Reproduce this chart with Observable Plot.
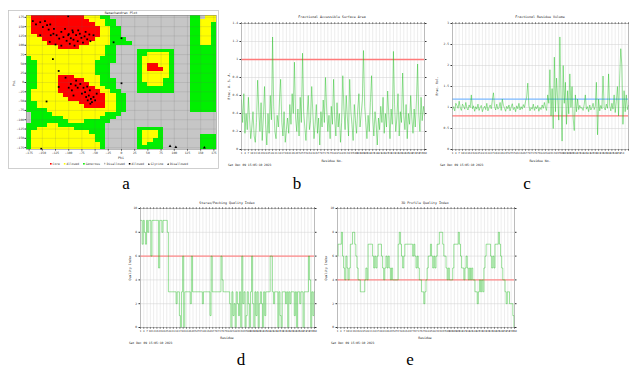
<!DOCTYPE html>
<html><head><meta charset="utf-8">
<script src="https://cdn.jsdelivr.net/npm/d3@7"></script>
<script src="https://cdn.jsdelivr.net/npm/@observablehq/plot@0.6"></script>
<style>
body{margin:0;background:#fff;}
#root{position:relative;width:629px;height:367px;overflow:hidden;background:#fff;}
</style></head><body><div id="root"></div>
<script>
// ---------- DATA ----------
const ramaTicks = [-175,-150,-125,-100,-75,-50,-25,0,25,50,75,100,125,150,175];
// region map: rows psi 180->-180 (10 deg), cols phi -180->180 (10 deg); R core, Y allowed, G generous, . disallowed
const ramaRegions = [
"YRRRRRRRRRRYYYGG...............GG.YY",
"YRRRRRRRRRRRYYYGG..............GGYYY",
"YRRRRRRRRRRRRYYGG..............GGYYG",
"YRRRRRRRRRRRRRYYGG.............GGYYG",
"YRRRRRRRRRRRRRYYGG.............GGYYG",
"YYRRRRRRRRRRRRYYGG.............GGYYG",
"YYYRRRRRRRRRRYYYGGG............GGYYG",
"YYYYRRRRRRRRYYYYGGGG...........GGYYG",
"YYYYYYRRRRYYYYYGG..............GGGGG",
"YYYYYYYYYYYYYYYGG....GGGGGGG...GGGGG",
"YYYYYYYYYYYYYYYGG....GGYYYYG...GGGGG",
"GYYYYYYYYYYYYYGGG....GYYYYYG...GGGGG",
"GGYYYYYYYYYYYGGGG....GYYYYYG...GGGGG",
"GGYYYYYYYYYYYGGG.....GYRRYYG...GGGGG",
"GGYYYYYYYYYYYGGG.....GYRRRYG...GGGGG",
"GGYYYYYYYYYYYGGG.....GYYYYYG...GGGGG",
"GGYYYYRRRYYYYYGG.....GYYYYYG...GGGGG",
"GGYYYYRRRRRYYYGGG....GYYYYGG...GGGGG",
"GGYYYYRRRRRRYYGGG....GGYYYGG...GGGGG",
"GGYYYYRRRRRRRYYGG....GGGGGGG...GGGGG",
"GYYYYYRRRRRRRRYYGG...GGGGGGG...GGGGG",
"GYYYYYYRRRRRRRRYYGG............GGGGG",
"GYYYYYYYRRRRRRRYYGG............GGGGG",
"GGYYYYYYYYRRRRRYYGG............GGGGG",
"GGYYYYYYYYYRRRRYYGG............GGGGG",
"GGGGYYYYYYYYYYYYYGG............GGGGG",
".GGGGYYYYYYYYYYGGG..................",
".GGGGGGYYYYYYYGGG...................",
".GGGGGGGYYYGGGGG....................",
"GGGGYYGGGGGGGGG.....................",
"GGYYYYYYYGGGGGG......GGGGG..........",
"GYYYYYYYYYYYGGG......GYYYG..........",
"GYYYYYYYYYYYYGG......GYYYG.......GGG",
"GYYYYYYYYYYYYGG......GYYGG.......GGG",
"GYYYYYYYYYYYYYG......GYGGG.......GGG",
"GYYYYYYYYYYYYYG......GGGGG.......GGG"];
const ramaResidues = [
[-168,165],[-162,156],[-154,162],[-149,149],[-141,154],[-138,142],[-135,156],[-134,127],[-129,131],[-128,144],
[-123,127],[-118,118],[-114,136],[-110,122],[-107,144],[-104,112],[-101,127],[-98,104],[-96,119],[-93,140],
[-91,115],[-89,99],[-86,127],[-83,111],[-79,131],[-76,120],[-73,107],[-70,124],[-68,136],[-65,116],
[-61,129],[-59,111],[-53,127],[-101,178],[-114,99],[-154,127],[-136,109],[-125,102],[-145,165],[-92,135],
[-82,140],[-100,130],[-106,13],[-100,-14],[-94,-21],[-87,-8],[-83,-14],[-78,-4],[-75,-30],[-72,-14],
[-69,-26],[-67,-39],[-64,-48],[-62,-35],[-60,-21],[-58,-44],[-56,-53],[-53,-39],[-50,-48],[-119,-12],
[-91,-35],[-59,-57],[-47,-30],[-86,5],[-96,-4],[-65,-11],[-130,63],[-119,31],[-142,-51],[-15,108],
[0,119],[0,-2],[-152,-178]];
const ramaGlycines = [[92,-171],[103,-174],[157,-175]];

const residueCount = 160;
const asaValues = [
0.55,0.30,0.62,0.18,0.40,0.22,0.58,0.35,0.12,0.25,0.42,0.15,0.08,0.30,0.77,0.45,0.20,0.52,0.10,0.35,
0.70,0.28,0.05,0.40,0.18,0.60,0.33,1.25,0.48,0.20,0.12,0.38,0.25,0.55,0.78,0.30,0.15,0.42,0.08,0.22,
0.35,0.18,0.50,0.28,0.62,0.40,0.97,0.35,0.20,0.45,0.15,0.58,0.30,1.07,0.42,0.25,0.10,0.38,0.60,0.22,
0.32,0.70,0.40,0.12,0.28,0.50,0.18,0.35,0.05,0.42,0.25,0.55,0.30,0.80,0.45,0.20,0.38,0.12,0.48,0.28,
0.78,0.35,0.15,0.52,0.25,0.40,0.08,0.30,0.82,0.45,0.22,0.60,0.35,0.15,0.78,0.42,0.28,0.10,0.50,0.32,
0.18,0.45,0.62,0.25,0.40,0.55,1.10,0.48,0.30,0.12,0.38,0.20,0.52,0.82,0.35,0.15,0.42,0.28,0.05,0.35,
0.22,0.48,0.30,0.58,0.18,0.40,0.25,0.65,0.38,0.12,0.45,0.28,1.09,0.50,0.20,0.35,0.62,0.15,0.42,0.30,
0.85,0.38,0.22,0.50,0.12,0.40,0.28,0.60,0.35,0.18,0.45,0.25,0.55,0.95,0.40,0.20,0.58,0.32,0.48,0.38];
const volumeValues = [
0.95,1.02,0.92,1.10,1.05,0.98,1.15,1.00,0.93,1.08,1.03,0.96,1.12,0.99,0.94,1.06,1.00,1.30,0.97,1.04,
0.91,1.02,0.96,1.08,0.93,1.00,1.05,0.90,0.98,1.03,0.95,1.10,0.92,1.00,1.06,0.97,1.18,1.35,1.02,0.94,
1.08,0.96,1.00,1.12,0.93,1.20,1.05,0.98,0.91,1.03,0.97,1.06,0.92,1.01,1.09,0.95,1.00,0.90,1.04,0.97,
1.10,0.94,1.02,0.96,1.07,1.00,1.15,1.25,1.58,1.05,0.92,1.00,0.96,1.08,0.93,1.02,0.97,1.05,0.91,1.00,
0.95,1.06,0.98,1.12,1.00,0.93,1.30,1.10,1.90,0.80,1.45,0.50,2.20,0.90,1.70,1.20,0.70,2.68,1.30,0.20,
2.00,1.10,1.60,0.60,1.40,0.85,1.80,1.00,1.50,0.75,0.45,1.30,0.90,1.20,0.95,1.05,0.98,1.00,0.93,1.08,
1.30,0.96,1.02,0.90,1.06,0.94,1.00,1.10,0.95,1.03,1.60,0.35,1.20,0.92,1.05,0.97,1.75,1.00,0.94,1.08,
0.98,1.80,1.05,0.92,1.10,0.96,1.30,0.88,1.15,1.50,0.80,1.70,2.40,2.00,0.60,1.40,0.90,1.30,0.95,1.05];
const packingValues = [
9,9,7,9,8,7,9,8,9,9,6,9,9,9,9,9,9,5,9,9,8,9,9,9,9,8,3,3,3,3,
3,3,3,2,3,3,1,0,3,6,0,3,3,3,3,3,2,6,3,3,3,3,3,3,3,3,3,2,3,3,
3,3,3,3,1,6,3,3,3,3,3,3,3,3,6,4,3,3,3,3,3,3,2,0,3,1,2,0,3,2,
1,3,0,6,2,3,0,1,3,2,0,3,6,2,0,3,1,3,0,2,3,2,0,3,1,3,3,3,3,6,
6,3,2,3,3,3,0,3,1,0,3,3,3,2,3,0,3,2,3,3,3,1,3,0,3,3,2,3,3,0,
3,3,3,3,6,4,0,3,1,3];
const profileValues = [
6,7,7,7,8,6,5,4,6,5,4,5,7,7,8,8,7,6,5,4,4,3,3,3,3,4,5,4,7,7,
7,7,6,5,6,5,6,7,7,7,6,5,4,5,6,5,6,5,4,5,4,4,4,4,4,7,8,7,6,5,
6,7,7,7,7,7,7,7,6,7,6,5,6,5,4,4,3,3,2,3,4,5,6,6,7,6,5,6,5,6,
7,7,8,8,8,7,6,6,5,4,5,4,4,4,5,7,7,7,7,8,7,6,5,5,4,5,6,5,4,5,
4,5,4,4,3,3,2,3,4,3,4,3,5,6,7,7,7,7,6,5,6,5,7,7,7,8,7,6,5,4,
4,3,2,3,3,2,2,2,1,0];
const dateStamp = "Sat Dec 09 15:05:10 2023";

// ---------- HELPERS ----------
const root = document.getElementById("root");
function place(el, left, top){ el.style.position="absolute"; el.style.left=left+"px"; el.style.top=top+"px"; root.appendChild(el); }
const residueTicks = asaValues.map((v,i)=>i+1).filter(r=>(r-1)%3===0);
const mono = "DejaVu Sans Mono, monospace";
const fmt = d3.format("~g");

function residueChart(cfg){
  const data = cfg.values.map((v,i)=>({res:i+1, v}));
  const lastLabel = cfg.lastLabel || residueCount;
  return Plot.plot({
    width:cfg.w, height:cfg.h, marginLeft:cfg.mL, marginRight:cfg.mR, marginTop:cfg.mT, marginBottom:cfg.mB,
    style:{background:"transparent", fontSize:"3px", fontFamily:mono, color:"#333", overflow:"visible"},
    x:{domain:[1,residueCount], label:null},
    y:{domain:cfg.yDomain, label:null},
    marks:[
      Plot.gridX(residueTicks,{stroke:"#dadada", strokeOpacity:1, strokeWidth:0.5}),
      Plot.gridY(cfg.yTicks,{stroke:"#d0d0d0", strokeOpacity:1, strokeWidth:0.5}),
      ...cfg.refs.map(r=>Plot.ruleY([r.y],{stroke:r.color, strokeWidth:1.3})),
      Plot.line(data,{x:"res", y:"v", stroke:"#1fbf1f", strokeWidth:0.75, strokeOpacity:0.6, curve:cfg.curve||"linear"}),
      Plot.axisX({ticks:residueTicks, anchor:"bottom", tickSize:1.5, tickPadding:1, tickFormat:d=>d<=lastLabel?d:"", fontSize:"2.6px", label:null}),
      Plot.axisX({ticks:residueTicks, anchor:"top", tickSize:1.5, tickFormat:()=>"", label:null}),
      Plot.axisY({ticks:cfg.yTicks, anchor:"left", tickSize:1.5, tickPadding:2, tickFormat:fmt, label:null}),
      Plot.axisY({ticks:cfg.yTicks, anchor:"right", tickSize:1.5, tickFormat:()=>"", label:null}),
      Plot.frame({stroke:"#999", strokeWidth:0.6})
    ]
  });
}

// ---------- PANEL A ----------
const cells = [];
ramaRegions.forEach((row,r)=>row.padEnd(36,".").slice(0,36).split("").forEach((k,c)=>cells.push({phi:-180+10*c, psi:170-10*r, k})));
const rama = Plot.plot({
  width:210, height:148, marginLeft:18, marginRight:2, marginTop:5, marginBottom:9,
  style:{background:"transparent", fontSize:"3px", fontFamily:mono, color:"#333", overflow:"visible"},
  x:{domain:[-180,180], label:null}, y:{domain:[-180,180], label:null},
  color:{domain:["R","Y","G","."], range:["#ff0000","#ffff00","#00f000","#c6c6c6"]},
  marks:[
    Plot.rect(cells,{x1:"phi", x2:d=>d.phi+10, y1:"psi", y2:d=>d.psi+10, fill:"k", shapeRendering:"crispEdges"}),
    Plot.gridX(ramaTicks,{stroke:"#666", strokeOpacity:0.3, strokeWidth:0.5}),
    Plot.gridY(ramaTicks,{stroke:"#666", strokeOpacity:0.3, strokeWidth:0.5}),
    Plot.dot(ramaResidues,{x:d=>d[0], y:d=>d[1], symbol:"square", r:1.0, fill:"#000"}),
    Plot.dot(ramaGlycines,{x:d=>d[0], y:d=>d[1], symbol:"triangle", r:1.1, fill:"#000"}),
    Plot.axisX({ticks:ramaTicks, tickSize:1.5, tickPadding:1, label:null}),
    Plot.axisY({ticks:ramaTicks, tickSize:1.5, tickPadding:1, label:null}),
    Plot.frame({stroke:"#777", strokeWidth:0.5})
  ]
});
place(rama, 8, 10);

// ---------- PANELS B-E ----------
place(residueChart({values:asaValues, yDomain:[0,1.4], yTicks:[0,0.2,0.4,0.6,0.8,1,1.2,1.4],
  refs:[{y:1,color:"#ff7a7a"}], w:205, h:150, mL:16, mR:6, mT:15, mB:9}), 225, 8);
place(residueChart({values:volumeValues, yDomain:[0,3], yTicks:[0,0.5,1,1.5,2,2.5,3], lastLabel:155,
  refs:[{y:1.2,color:"#7ab8ff"},{y:0.8,color:"#ff7a7a"}], w:194, h:150, mL:17, mR:1, mT:15, mB:9}), 435, 8);
place(residueChart({values:packingValues, yDomain:[0,10], yTicks:[0,2,4,6,8,10], curve:"step",
  refs:[{y:6,color:"#ff8a8a"}], w:195, h:136, mL:15, mR:6, mT:8, mB:9}), 125, 200);
place(residueChart({values:profileValues, yDomain:[0,10], yTicks:[0,2,4,6,8,10], curve:"step",
  refs:[{y:4,color:"#ff8a8a"}], w:198, h:136, mL:15, mR:6, mT:8, mB:9}), 322, 200);

// ---------- OVERLAY TEXT ----------
const ov = d3.create("svg").attr("width",629).attr("height",367)
  .style("position","absolute").style("left","0px").style("top","0px").style("pointer-events","none");
root.appendChild(ov.node());
function txt(x,y,s,o={}){
  const t = ov.append("text").attr("x",x).attr("y",y).attr("text-anchor",o.anchor||"middle")
    .attr("dominant-baseline","central").style("font-size",(o.size||3.4)+"px")
    .style("font-family",o.family||mono).attr("fill",o.fill||"#222").text(s);
  if(o.rotate) t.attr("transform",`rotate(${o.rotate},${x},${y})`);
  return t;
}
ov.append("rect").attr("x",8.5).attr("y",10.5).attr("width",210).attr("height",158)
  .attr("fill","none").attr("stroke","#c4c4c4").attr("stroke-width",0.8);
txt(121,12.6,"Ramachandran Plot",{size:3.2});
txt(14,83,"Psi",{rotate:-90,size:3.2});
txt(121,157.5,"Phi",{size:3.2});
// legend
const legendItems = [["Core","#ff0000","sq"],["Allowed","#ffff00","sq"],["Generous","#00f000","sq"],["Disallowed","#ffffff","sq"],["Allowed","#000","sq"],["Glycine","#000","tri"],["Disallowed","#000","tri"]];
const lg = ov.append("g");
let lx = 0;
legendItems.forEach(([label,color,shape])=>{
  if(shape==="sq") lg.append("rect").attr("x",lx).attr("y",163).attr("width",1.6).attr("height",1.6).attr("fill",color).attr("stroke",color==="#ffffff"?"#999":"none").attr("stroke-width",0.3);
  else lg.append("path").attr("d",`M${lx+0.8},162.9L${lx+1.7},164.7L${lx-0.1},164.7Z`).attr("fill",color);
  const t = lg.append("text").attr("x",lx+2.6).attr("y",164).attr("dominant-baseline","central")
    .style("font-size","3px").style("font-family",mono).attr("fill","#333").text(label);
  lx += 2.6 + t.node().getComputedTextLength() + 4;
});
lg.attr("transform",`translate(${121-lx/2},0)`);

txt(332,17,"Fractional Accessible Surface Area",{size:3.3});
txt(229,86,"Frac. A. S. A.",{rotate:-90,size:3.2});
txt(332,160.5,"Residue No.",{size:3.2});
txt(228,164.5,dateStamp,{anchor:"start",size:3});

txt(540,17,"Fractional Residue Volume",{size:3.3});
txt(437,86,"Frac. Vol.",{rotate:-90,size:3.2});
txt(540,160.5,"Residue No.",{size:3.2});
txt(440,164.5,dateStamp,{anchor:"start",size:3});

txt(227,202.5,"Stereo/Packing Quality Index",{size:3.3});
txt(130,268,"Quality Index",{rotate:-90,size:3.2});
txt(227,338,"Residue",{size:3.2});
txt(129,343,dateStamp,{anchor:"start",size:3});

txt(425,202.5,"3D Profile Quality Index",{size:3.3});
txt(326,268,"Quality Index",{rotate:-90,size:3.2});
txt(425,338,"Residue",{size:3.2});
txt(331,343,dateStamp,{anchor:"start",size:3});

const serif = "Liberation Serif, Times New Roman, serif";
txt(126,183,"a",{size:17,family:serif,fill:"#000"});
txt(297,183,"b",{size:17,family:serif,fill:"#000"});
txt(527,183,"c",{size:17,family:serif,fill:"#000"});
txt(241,359,"d",{size:17,family:serif,fill:"#000"});
txt(410,359,"e",{size:17,family:serif,fill:"#000"});
</script></body></html>
